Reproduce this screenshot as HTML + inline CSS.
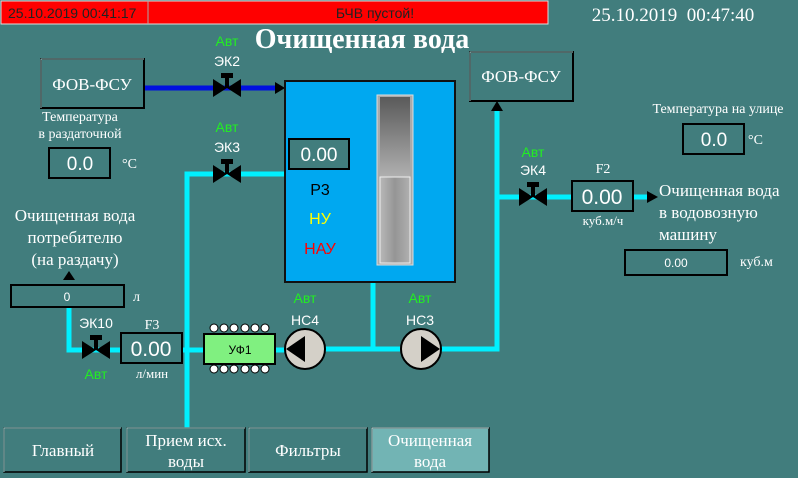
<!DOCTYPE html>
<html><head><meta charset="utf-8"><style>
body{margin:0;width:798px;height:478px;overflow:hidden;background:#417d7d}
svg{display:block}
.s{font-family:"Liberation Serif",serif;fill:#fff}
.a{font-family:"Liberation Sans",sans-serif}
</style></head><body>
<svg width="798" height="478" viewBox="0 0 798 478">
<defs>
<linearGradient id="g1" x1="0" y1="0" x2="0" y2="1"><stop offset="0" stop-color="#5a5a5a"/><stop offset="1" stop-color="#b0b0b0"/></linearGradient>
<linearGradient id="g2" x1="0" y1="0" x2="1" y2="0"><stop offset="0" stop-color="#b8b8b8"/><stop offset=".5" stop-color="#959595"/><stop offset="1" stop-color="#b0b0b0"/></linearGradient>
</defs>
<rect width="798" height="478" fill="#417d7d"/>
<!-- header -->
<rect x="1" y="1" width="547" height="23" fill="#ff0000" stroke="#ddd" stroke-width="1"/>
<line x1="148" y1="1" x2="148" y2="24" stroke="#aaa"/>
<text x="8" y="18" class="a" font-size="14" fill="#222">25.10.2019 00:41:17</text>
<text x="375" y="18" class="a" font-size="14" fill="#222" text-anchor="middle">БЧВ пустой!</text>
<text x="673" y="21" class="s" font-size="19" text-anchor="middle">25.10.2019&#160;&#160;00:47:40</text>
<text x="362" y="48" class="s" font-size="28" font-weight="bold" text-anchor="middle">Очищенная вода</text>

<!-- pipes -->
<g stroke="#00f0ff" stroke-width="5" fill="none">
<polyline points="285,174 187,174 187,428"/>
<polyline points="69,306 69,350 122,350"/>
<line x1="182" y1="350" x2="300" y2="350"/>
<line x1="325" y1="349" x2="400" y2="349"/>
<line x1="373" y1="282" x2="373" y2="349"/>
<polyline points="441,349 497,349 497,110"/>
<line x1="497" y1="197" x2="572" y2="197"/>
<line x1="633" y1="197" x2="648" y2="197"/>
</g>
<line x1="144" y1="88" x2="276" y2="88" stroke="#0010e0" stroke-width="5"/>
<polygon points="275,82 285,88 275,94" fill="#000"/>
<polygon points="491,111 497,101 503,111" fill="#000"/>
<polygon points="647,191 658,197 647,203" fill="#000"/>
<polygon points="63,280 69,271 75,280" fill="#000"/>

<!-- ФОВ-ФСУ boxes -->
<rect x="41" y="59" width="103" height="49" fill="#417d7d" stroke="#000" stroke-width="2"/>
<path d="M41,108 V59 H144" stroke="#9fd0d0" fill="none"/>
<text x="92" y="90" class="s" font-size="17" text-anchor="middle">ФОВ-ФСУ</text>
<rect x="470" y="52" width="103" height="49" fill="#417d7d" stroke="#000" stroke-width="2"/>
<path d="M470,101 V52 H573" stroke="#9fd0d0" fill="none"/>
<text x="521" y="82" class="s" font-size="17" text-anchor="middle">ФОВ-ФСУ</text>

<!-- valves -->
<g fill="#000">
<g transform="translate(227,88)"><polygon points="-14,-9 14,9 14,-9 -14,9"/><rect x="-2" y="-13" width="4" height="13"/><rect x="-6" y="-15" width="12" height="5"/></g>
<g transform="translate(227,174)"><polygon points="-14,-9 14,9 14,-9 -14,9"/><rect x="-2" y="-13" width="4" height="13"/><rect x="-6" y="-15" width="12" height="5"/></g>
<g transform="translate(96,350)"><polygon points="-14,-9 14,9 14,-9 -14,9"/><rect x="-2" y="-13" width="4" height="13"/><rect x="-6" y="-15" width="12" height="5"/></g>
<g transform="translate(533,197)"><polygon points="-14,-9 14,9 14,-9 -14,9"/><rect x="-2" y="-13" width="4" height="13"/><rect x="-6" y="-15" width="12" height="5"/></g>
</g>
<g class="a" font-size="14" text-anchor="middle">
<text x="227" y="46" fill="#22ee22">Авт</text><text x="227" y="66" fill="#fff">ЭК2</text>
<text x="227" y="132" fill="#22ee22">Авт</text><text x="227" y="152" fill="#fff">ЭК3</text>
<text x="96" y="328" fill="#fff">ЭК10</text><text x="96" y="379" fill="#22ee22">Авт</text>
<text x="533" y="157" fill="#22ee22">Авт</text><text x="533" y="175" fill="#fff">ЭК4</text>
<text x="305" y="303" fill="#22ee22">Авт</text><text x="305" y="325" fill="#fff">НС4</text>
<text x="420" y="303" fill="#22ee22">Авт</text><text x="420" y="325" fill="#fff">НС3</text>
</g>

<!-- tank -->
<rect x="285" y="81" width="170" height="201" fill="#00a8f0" stroke="#111" stroke-width="2"/>
<rect x="289" y="139" width="60" height="30" fill="#417d7d" stroke="#000" stroke-width="2"/>
<text x="319" y="161" class="a" font-size="19" fill="#fff" text-anchor="middle">0.00</text>
<text x="320" y="195" class="a" font-size="16" fill="#000" text-anchor="middle">Р3</text>
<text x="320" y="224" class="a" font-size="16" fill="#ffff00" text-anchor="middle">НУ</text>
<text x="320" y="254" class="a" font-size="16" fill="#ff0000" text-anchor="middle">НАУ</text>
<rect x="377" y="95" width="36" height="170" fill="#aaa" stroke="#ddd"/>
<rect x="380" y="97" width="30" height="80" fill="url(#g1)"/>
<rect x="380" y="177" width="30" height="86" fill="url(#g2)" stroke="#eee"/>

<!-- temperatures -->
<text x="80" y="121" class="s" font-size="14" text-anchor="middle">Температура</text>
<text x="80" y="138" class="s" font-size="14" text-anchor="middle">в раздаточной</text>
<rect x="49" y="148" width="61" height="30" fill="#417d7d" stroke="#000" stroke-width="2"/>
<text x="80" y="170" class="a" font-size="19" fill="#fff" text-anchor="middle">0.0</text>
<text x="122" y="168" class="s" font-size="14">°C</text>
<text x="718" y="113" class="s" font-size="14" text-anchor="middle">Температура на улице</text>
<rect x="683" y="124" width="61" height="30" fill="#417d7d" stroke="#000" stroke-width="2"/>
<text x="714" y="146" class="a" font-size="19" fill="#fff" text-anchor="middle">0.0</text>
<text x="748" y="144" class="s" font-size="14">°C</text>

<!-- left consumer -->
<text x="75" y="221" class="s" font-size="17" text-anchor="middle">Очищенная вода</text>
<text x="75" y="243" class="s" font-size="17" text-anchor="middle">потребителю</text>
<text x="75" y="265" class="s" font-size="17" text-anchor="middle">(на раздачу)</text>
<rect x="11" y="285" width="113" height="22" fill="#417d7d" stroke="#000" stroke-width="2"/>
<text x="67" y="301" class="a" font-size="12" fill="#fff" text-anchor="middle">0</text>
<text x="133" y="301" class="s" font-size="14">л</text>

<!-- F3 -->
<text x="152" y="329" class="s" font-size="14" text-anchor="middle">F3</text>
<rect x="121" y="333" width="61" height="30" fill="#417d7d" stroke="#000" stroke-width="2"/>
<text x="151" y="356" class="a" font-size="21" fill="#fff" text-anchor="middle">0.00</text>
<text x="152" y="378" class="s" font-size="13" text-anchor="middle">л/мин</text>

<!-- UF1 -->
<g fill="#fff" stroke="#000" stroke-width="1">
<circle cx="214" cy="328" r="4"/><circle cx="224" cy="328" r="4"/><circle cx="234" cy="328" r="4"/><circle cx="245" cy="328" r="4"/><circle cx="255" cy="328" r="4"/><circle cx="265" cy="328" r="4"/>
<circle cx="214" cy="369" r="4"/><circle cx="224" cy="369" r="4"/><circle cx="234" cy="369" r="4"/><circle cx="245" cy="369" r="4"/><circle cx="255" cy="369" r="4"/><circle cx="265" cy="369" r="4"/>
</g>
<rect x="204" y="334" width="71" height="30" fill="#80f080" stroke="#000" stroke-width="2"/>
<text x="240" y="354" class="a" font-size="12" fill="#000" text-anchor="middle">УФ1</text>

<!-- pumps -->
<circle cx="305" cy="349" r="20" fill="#d4d0c8" stroke="#000" stroke-width="2"/>
<polygon points="286,349 305,336 305,362" fill="#000"/>
<circle cx="421" cy="349" r="20" fill="#d4d0c8" stroke="#000" stroke-width="2"/>
<polygon points="440,349 421,336 421,362" fill="#000"/>

<!-- F2 -->
<text x="603" y="173" class="s" font-size="14" text-anchor="middle">F2</text>
<rect x="572" y="181" width="61" height="30" fill="#417d7d" stroke="#000" stroke-width="2"/>
<text x="602" y="204" class="a" font-size="21" fill="#fff" text-anchor="middle">0.00</text>
<text x="603" y="225" class="s" font-size="13" text-anchor="middle">куб.м/ч</text>
<text x="659" y="196" class="s" font-size="17">Очищенная вода</text>
<text x="659" y="218" class="s" font-size="17">в водовозную</text>
<text x="659" y="240" class="s" font-size="17">машину</text>
<rect x="625" y="250" width="102" height="25" fill="#417d7d" stroke="#000" stroke-width="2"/>
<text x="676" y="267" class="a" font-size="12" fill="#fff" text-anchor="middle">0.00</text>
<text x="740" y="266" class="s" font-size="14">куб.м</text>

<!-- nav -->
<g class="s" font-size="17" text-anchor="middle">
<rect x="4" y="428" width="117" height="44" fill="#417d7d" stroke="#000" stroke-width="1.5"/><path d="M4,472V428H121" stroke="#9fd0d0" fill="none"/>
<text x="63" y="456">Главный</text>
<rect x="127" y="428" width="118" height="44" fill="#417d7d" stroke="#000" stroke-width="1.5"/><path d="M127,472V428H245" stroke="#9fd0d0" fill="none"/>
<text x="186" y="446">Прием исх.</text><text x="186" y="467">воды</text>
<rect x="249" y="428" width="118" height="44" fill="#417d7d" stroke="#000" stroke-width="1.5"/><path d="M249,472V428H367" stroke="#9fd0d0" fill="none"/>
<text x="308" y="456">Фильтры</text>
<rect x="372" y="428" width="117" height="44" fill="#72b4b4" stroke="#000" stroke-width="1.5"/><path d="M372,472V428H489" stroke="#c0e4e4" fill="none"/>
<text x="430" y="446">Очищенная</text><text x="430" y="467">вода</text>
</g>
</svg>
</body></html>
